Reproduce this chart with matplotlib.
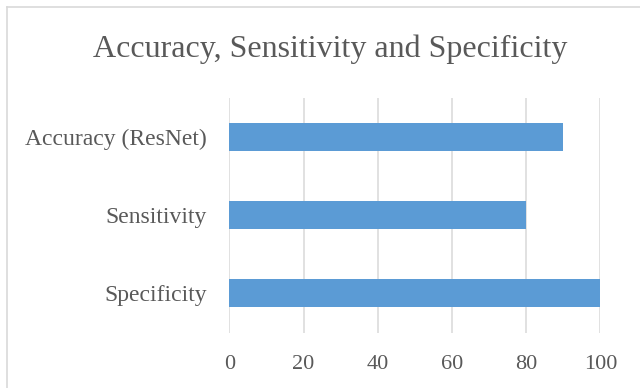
import matplotlib.pyplot as plt
from matplotlib.lines import Line2D

categories = ['Accuracy (ResNet)', 'Sensitivity', 'Specificity']
values = [90, 80, 100]
xticks = [0, 20, 40, 60, 80, 100]

text_color = '#595959'
grid_color = '#d9d9d9'
bar_color = '#5b9bd5'

plt.rcParams['font.family'] = ['Liberation Serif', 'DejaVu Serif']

fig = plt.figure(figsize=(6.4, 3.88), dpi=100)
ax = fig.add_axes([0.3583, 0.143, 0.5797, 0.6057])

# Horizontal bars, first category on top
ypos = list(range(len(categories)))[::-1]
ax.barh(ypos, values, height=0.355, color=bar_color, zorder=3)

ax.set_xlim(0, 100)
ax.set_ylim(-0.5, len(categories) - 0.5)
ax.set_xticks(xticks)
ax.set_xticklabels([str(t) for t in xticks])
ax.set_yticks(ypos)
ax.set_yticklabels(categories)
ax.tick_params(axis='both', length=0, colors=text_color)
ax.tick_params(axis='y', pad=16, labelsize=17)
ax.tick_params(axis='x', pad=16, labelsize=16)
ax.xaxis.grid(True, color=grid_color, linewidth=1.1, zorder=0)
for s in ax.spines.values():
    s.set_visible(False)

fig.text(0.516, 0.873, 'Accuracy, Sensitivity and Specificity',
         ha='center', va='center', fontsize=23, color=text_color)

# Chart area frame (top and left edges)
fig.add_artist(Line2D([6.5 / 640, 1], [1 - 7 / 388, 1 - 7 / 388],
                      transform=fig.transFigure, color=grid_color, linewidth=1.2))
fig.add_artist(Line2D([6.5 / 640, 6.5 / 640], [0, 1 - 7 / 388],
                      transform=fig.transFigure, color=grid_color, linewidth=1.2))

fig.savefig('out.png', dpi=100)
